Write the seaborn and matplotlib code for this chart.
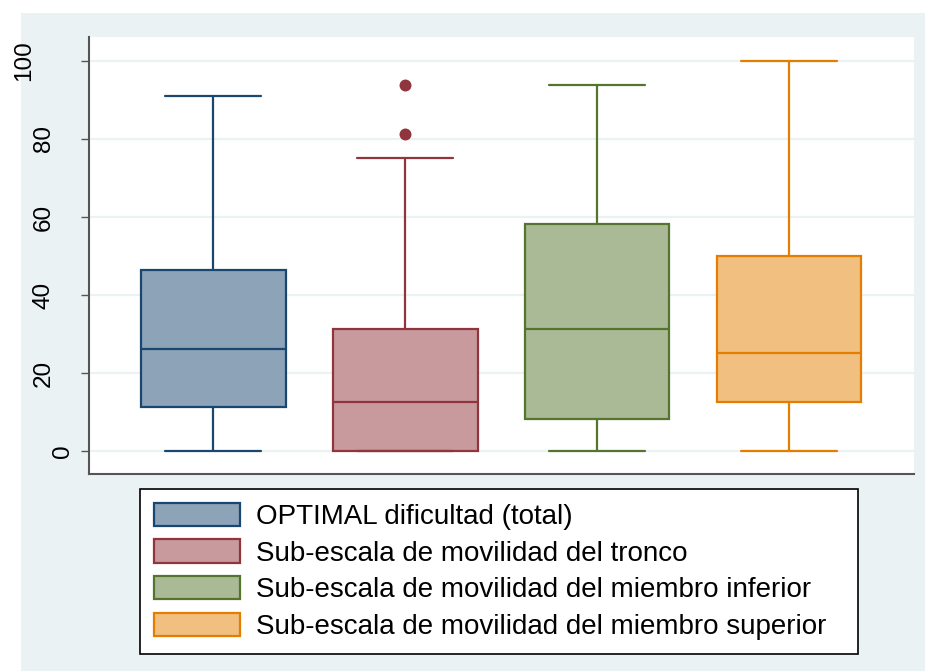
import numpy as np
import pandas as pd
import matplotlib
matplotlib.use("Agg")
import matplotlib.pyplot as plt
from matplotlib.patches import Patch, Rectangle
from matplotlib.transforms import ScaledTranslation
import seaborn as sns

# Summary of each score (0-100): lower whisker, Q1, median, Q3, upper whisker
categorias = [
    "OPTIMAL dificultad (total)",
    "Sub-escala de movilidad del tronco",
    "Sub-escala de movilidad del miembro inferior",
    "Sub-escala de movilidad del miembro superior",
]
bigote_inf = [0, 0, 0, 0]
q1 = [11.3, 0, 8.3, 12.5]
mediana = [26.2, 12.5, 31.2, 25]
q3 = [46.5, 31.25, 58.3, 50]
bigote_sup = [91.0, 75, 93.75, 100]

# Outside values (group index, score)
atipicos_grupo = [1, 1]
atipicos_valor = [81.25, 93.75]

yticks = [0, 20, 40, 60, 80, 100]

relleno = ["#8CA3B8", "#C89A9E", "#AABA96", "#F1BF80"]
borde = ["#1A476F", "#90353B", "#55752F", "#E37E00"]
fondo = "#EAF2F3"

filas = []
for i, cat in enumerate(categorias):
    for v in (bigote_inf[i], q1[i], mediana[i], q3[i], bigote_sup[i]):
        filas.append({"grupo": cat, "valor": v})
df = pd.DataFrame(filas)

sns.set_style("white")
plt.rcParams["font.family"] = ["Liberation Sans", "DejaVu Sans"]
plt.rcParams["text.color"] = "black"
plt.rcParams["ytick.labelcolor"] = "black"

W, H, DPI = 925, 671, 100
fig = plt.figure(figsize=(W / DPI, H / DPI), dpi=DPI, facecolor="white")
fig.add_artist(Rectangle((21 / W, 0), 1 - 21 / W, 1 - 13 / H,
                         transform=fig.transFigure, facecolor=fondo,
                         edgecolor="none", zorder=-1))

ax_l, ax_r, ax_t, ax_b = 89, 914, 37, 474
ax = fig.add_axes([ax_l / W, 1 - ax_b / H, (ax_r - ax_l) / W, (ax_b - ax_t) / H])
ax.set_facecolor("white")

for i, cat in enumerate(categorias):
    sns.boxplot(data=df[df["grupo"] == cat], x="grupo", y="valor",
                order=categorias, color=relleno[i], linecolor=borde[i],
                linewidth=1.6, width=0.755, whis=(0, 100), saturation=1,
                showfliers=False, capwidths=0.5, ax=ax)

sns.stripplot(x=[categorias[g] for g in atipicos_grupo], y=atipicos_valor,
              order=categorias, jitter=False, color=borde[1], size=8.6,
              linewidth=0, ax=ax, zorder=4)

ax.set_xlim(-0.646, 3.651)
ax.set_ylim(-5.9, 106.15)
ax.set_xlabel("")
ax.set_ylabel("")
ax.set_xticks([])
ax.set_yticks(yticks)
ax.set_yticklabels([str(t) for t in yticks], rotation=90, ha="center",
                   va="center", fontsize=17.5, color="black")
ax.set_axisbelow(True)
ax.yaxis.grid(True, color=fondo, linewidth=1.6)
ax.xaxis.grid(False)

for s in ("top", "right"):
    ax.spines[s].set_visible(False)
for s in ("left", "bottom"):
    ax.spines[s].set_color("#555555")
    ax.spines[s].set_linewidth(1.5)
ax.tick_params(axis="y", left=True, length=5.8, width=1, color="#555555",
               pad=0, direction="out")

# Stata-like placement of the rotated labels: shorter labels sit closer to the axis
for lab in ax.get_yticklabels():
    n = len(lab.get_text())
    dx = (2 - 19.5 * n) / DPI
    lab.set_transform(lab.get_transform() + ScaledTranslation(dx, 0, fig.dpi_scale_trans))

handles = [Patch(facecolor=relleno[i], edgecolor=borde[i], linewidth=1.6)
           for i in range(len(categorias))]
leg_x0, leg_x1, leg_y0, leg_y1 = 140, 858, 489, 648
leg = fig.legend(handles, categorias, loc="upper left",
                 bbox_to_anchor=(leg_x0 / W, 1 - leg_y1 / H, (leg_x1 - leg_x0) / W,
                                 (leg_y1 - leg_y0) / H),
                 mode="expand", borderaxespad=0, fontsize=20, frameon=True,
                 fancybox=False, edgecolor="black", framealpha=1,
                 handlelength=3.1, handleheight=0.9, handletextpad=0.58,
                 labelspacing=0.34, borderpad=0.5)
leg.get_frame().set_linewidth(1.2)
for t in leg.get_texts():
    t.set_color("black")

fig.savefig("out.png", dpi=DPI, facecolor="white")
